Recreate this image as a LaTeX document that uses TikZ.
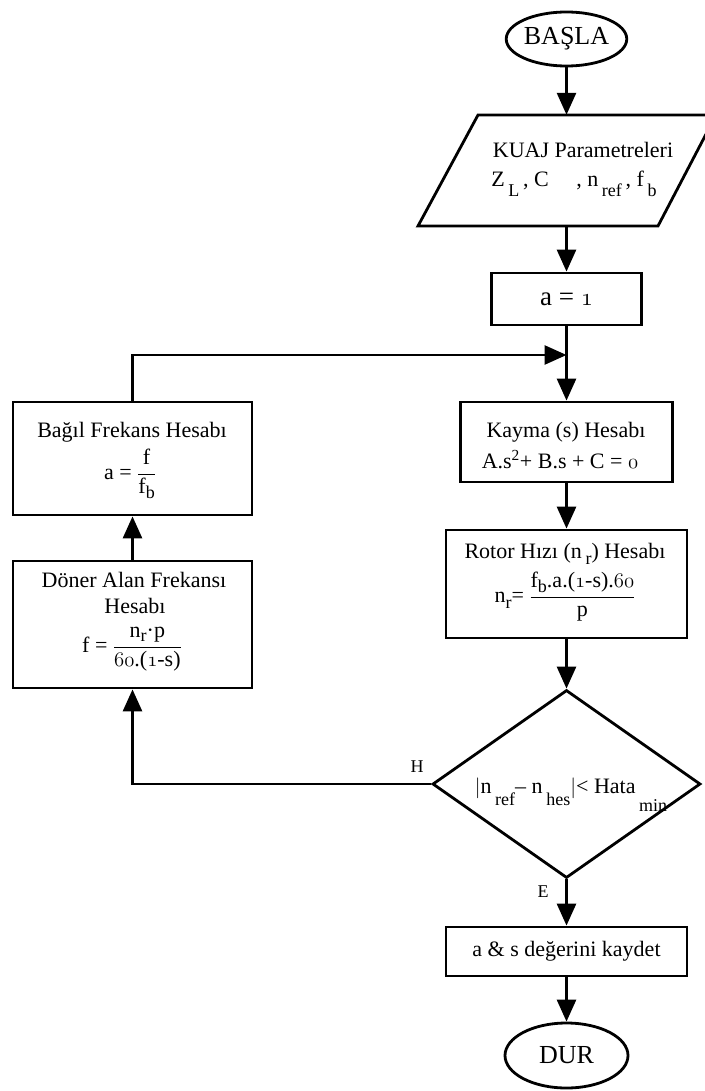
\documentclass[tikz,border=0pt]{standalone}
\usepackage{fontspec}
\setmainfont{Liberation Serif}
\usetikzlibrary{arrows.meta,shapes.geometric}
\newcommand\lo[2][-10pt]{\raisebox{#1}{\fontsize{18}{19}\selectfont #2}}
\newcommand\os[1]{{\usefont{OML}{cmm}{m}{it}#1}}
\begin{document}
\begin{tikzpicture}[x=1pt,y=-1pt,
  every node/.style={font=\fontsize{22}{26}\selectfont},
  box/.style={draw, line width=2.8pt, rectangle, inner sep=0pt},
  term/.style={draw, ellipse, line width=2.8pt, inner sep=0pt, font=\fontsize{26}{30}\selectfont},
  arr/.style={line width=2.8pt, -{Triangle[length=22pt,width=19pt]}},
  txt/.style={inner sep=0pt, anchor=base},
  lbl/.style={inner sep=0pt, anchor=base, font=\fontsize{18}{20}\selectfont}]
\fill[white] (0,0) rectangle (704,1091);
\useasboundingbox (0,0) rectangle (704,1091);
% shapes
\node[term, minimum width=120pt, minimum height=54pt] (start) at (566.5,39) {BAŞLA};
\draw[line width=2.8pt] (478,115) -- (716,115) -- (658,226) -- (418,226) -- cycle;
\node[inner sep=0pt, minimum width=240pt, minimum height=111pt] (inp) at (566.5,170.5) {};
\node[box, minimum width=150pt, minimum height=52pt, font=\fontsize{27}{29}\selectfont] (a1) at (566.5,299) {a = \os{1}};
\node[box, minimum width=212pt, minimum height=80pt] (kay) at (566.5,442) {};
\node[box, minimum width=241pt, minimum height=108pt] (rot) at (566.5,584) {};
\node[draw, diamond, line width=2.8pt, minimum width=268pt, minimum height=188pt, inner sep=0pt] (dec) at (566.5,784) {};
\node[box, minimum width=241pt, minimum height=49pt] (sav) at (566.5,951.5) {a \& s değerini kaydet};
\node[term, minimum width=123pt, minimum height=65pt] (stop) at (566.5,1055.5) {DUR};
\node[box, minimum width=239pt, minimum height=113pt] (bag) at (132.5,458.5) {};
\node[box, minimum width=239pt, minimum height=127pt] (don) at (132.5,624.5) {};
\coordinate (j) at (566.5,355);
% texts
\node[txt] (t1) at (583,158) {KUAJ Parametreleri};
\node[txt] (t2) at (574,187) {Z\,\lo{L}\,, C\quad\ , n\,\lo{ref}\,, f\,\lo{b}};
\node[txt] (t3) at (566,437) {Kayma (s) Hesabı};
\node[txt] (t4) at (560,468) {A.s\textsuperscript{2}+ B.s + C = \os{0}};
\node[txt] (t5) at (565,558) {Rotor Hızı (n\,\lo[-6pt]{r}) Hesabı};
\node[txt] (t6) at (565,602) {n\lo[-6pt]{r}= $\displaystyle\frac{\mbox{f\smash{\lo[-5pt]{b}}.a.(\os{1}-s).\os{60}}}{\mbox{p}}$};
\node[txt] (t7) at (132,437) {Bağıl Frekans Hesabı};
\node[txt] (t8) at (130,479) {a = $\displaystyle\frac{\mbox{f}}{\mbox{f\lo[-5pt]{b}}}$};
\node[txt] (t9) at (134,587) {Döner Alan Frekansı};
\node[txt] (t10) at (135,613) {Hesabı};
\node[txt] (t11) at (132,652) {f = $\displaystyle\frac{\mbox{n\smash{\lo[-4pt]{r}}·p}}{\mbox{\os{60}.(\os{1}-s)}}$};
\node[txt] (t12) at (571,793) {$\bigl|$n\,\lo[-12pt]{ref}– n\,\lo[-12pt]{hes}$\bigr|$< Hata\,\lo[-18pt]{min}};
\node[lbl] (lh) at (417,772) {H};
\node[lbl] (le) at (543,897) {E};
% connectors
\draw[arr] (start) -- (inp);
\draw[arr] (inp) -- (a1);
\draw[arr] (a1) -- (kay);
\draw[arr] (bag.north) |- (j);
\draw[arr] (kay) -- (rot);
\draw[arr] (rot) -- (dec);
\draw[arr] (dec.west) -| (don.south);
\draw[arr] (don) -- (bag);
\draw[arr] (dec) -- (sav);
\draw[arr] (sav) -- (stop);
\end{tikzpicture}
\end{document}
